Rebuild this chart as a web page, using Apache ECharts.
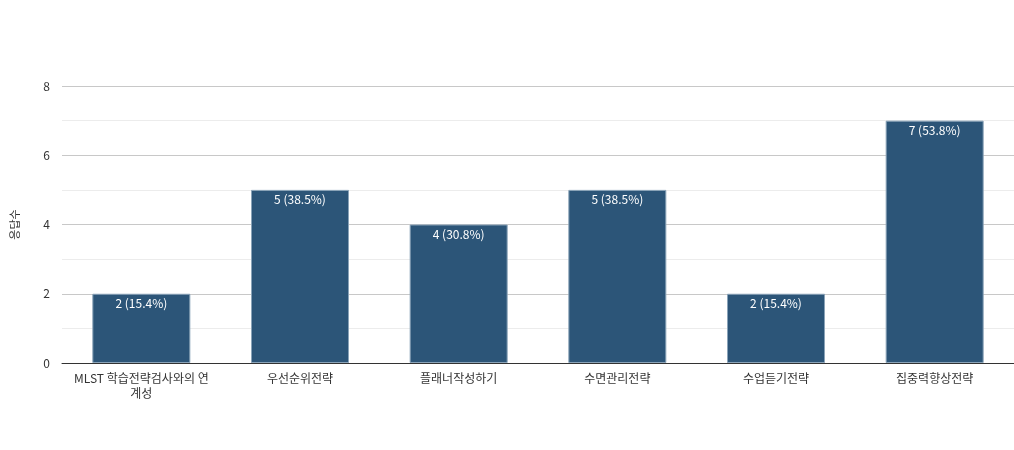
<!DOCTYPE html>
<html>
<head>
<meta charset="utf-8">
<script src="https://cdn.jsdelivr.net/npm/echarts@6/dist/echarts.min.js"></script>
<style>
  html, body { margin: 0; padding: 0; background: #fff; }
  #chart { width: 1014px; height: 450px; }
</style>
</head>
<body>
<div id="chart"></div>
<script>
var categories = ['MLST 학습전략검사와의 연계성', '우선순위전략', '플래너작성하기', '수면관리전략', '수업듣기전략', '집중력향상전략'];
var counts = [2, 5, 4, 5, 2, 7];
var total = 13;

var chart = echarts.init(document.getElementById('chart'));
var font = '"Noto Sans CJK KR", "Noto Sans", sans-serif';

var option = {
  animation: false,
  grid: { left: 62, right: 0, top: 86, bottom: 87 },
  xAxis: {
    type: 'category',
    data: categories,
    axisTick: { show: false },
    axisLine: { lineStyle: { color: '#333', width: 1 } },
    axisLabel: {
      color: '#333', fontSize: 12, fontFamily: font,
      interval: 0, margin: 8, width: 150, overflow: 'break', lineHeight: 15
    }
  },
  yAxis: {
    type: 'value',
    min: 0, max: 8, interval: 1,
    name: '응답수',
    nameLocation: 'middle',
    nameRotate: 90,
    nameGap: 42,
    nameTextStyle: { color: '#333', fontSize: 11, fontFamily: font },
    axisLine: { show: false },
    axisTick: { show: false },
    axisLabel: {
      color: '#333', fontSize: 12, fontFamily: font, margin: 12,
      formatter: function (v) { return v % 2 === 0 ? String(v) : ''; }
    },
    splitLine: { lineStyle: { color: ['#c8c8c8', '#ececec'], width: 1 } }
  },
  series: [{
    type: 'bar',
    data: counts,
    barWidth: 98,
    itemStyle: { color: '#2c5578', borderColor: '#8aa3b8', borderWidth: 1 },
    label: {
      show: true, position: 'insideTop', distance: 4,
      color: '#fff', fontSize: 12, fontFamily: font,
      formatter: function (p) { return p.value + ' (' + (p.value / total * 100).toFixed(1) + '%)'; }
    }
  }]
};
chart.setOption(option);
</script>
</body>
</html>
